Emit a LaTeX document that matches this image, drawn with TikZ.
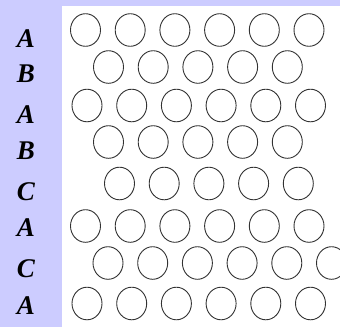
\documentclass[tikz,border=0pt]{standalone}
\usepackage{fontspec}
\setmainfont{Liberation Serif}
\definecolor{lavender}{RGB}{204,204,255}
\definecolor{ringgray}{RGB}{50,50,50}
\tikzset{atom/.style={draw=ringgray,line width=0.9pt},
  layer/.style={font=\fontsize{27}{27}\selectfont\bfseries\itshape,inner sep=0pt}}
\begin{document}
\begin{tikzpicture}[x=1pt,y=-1pt,line cap=round,line join=round]
\useasboundingbox (0,0) rectangle (340,327);
\fill[color=lavender] (0,0) rectangle (340,327);
\fill[white] (61.5,6) rectangle (340,327);
\clip (0,0) rectangle (340,327);
% stacking sequence: label, label y, row y, first x, count
\foreach \lab/\ly/\y/\xa/\n [count=\r] in {A/39/30/85.5/6, B/74/67/108.5/5, A/115/105.5/87/6,
  B/151/142/108.5/5, C/192/183.5/119.5/5, A/228/226/85.5/6, C/269/263/108/6, A/306/303.5/87/6}
{
  \node[layer] (lab\r) at (26,\ly) {\lab};
  \foreach \i in {1,...,\n}
    \draw[atom] (\xa+44.7*\i-44.7,\y) ellipse (15 and 16.3);
}
\end{tikzpicture}
\end{document}
